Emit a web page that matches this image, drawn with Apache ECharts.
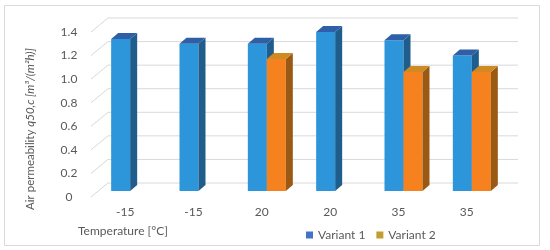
<!DOCTYPE html>
<html><head><meta charset="utf-8">
<script src="https://cdn.jsdelivr.net/npm/echarts@6/dist/echarts.min.js"></script>
<style>html,body{margin:0;padding:0;background:#fff}#c{width:550px;height:250px}</style>
</head><body><div id="c"></div>
<script>
const categories = ['-15', '-15', '20', '20', '35', '35'];
const variant1 = [1.29, 1.25, 1.25, 1.35, 1.28, 1.15];
const variant2 = [null, null, 1.12, null, 1.01, 1.01];
const yTicks = [0, 0.2, 0.4, 0.6, 0.8, 1.0, 1.2, 1.4];
const seriesNames = ['Variant 1', 'Variant 2'];
const yAxisTitle = 'Air permeability ';
const yAxisTitleItalic = 'q50,c [m³/(m²h)]';
const xAxisTitle = 'Temperature [°C]';

const FONT = 'Lato';
const TXT = '#595959';
const GRID = '#d9d9d9';
const WALL_DX = 17, WALL_DY = -14;   // depth of back wall
const BAR_FY = -6;                   // bar front plane offset
const BAR_DX = 7, BAR_DY = -6;       // bar depth

const faces = [
  {front: '#2d95d9', side: '#1f5d8c', top: '#2f5fa6'},
  {front: '#f5821f', side: '#9a5a14', top: '#cf8a22'}
];
const slots = [[-14, 5], [5, 24]];

function barRender(k) {
  return function (params, api) {
    const v = api.value(1);
    if (v == null || isNaN(v)) return;
    const c = api.value(0);
    const top = api.coord([c, v]);
    const bot = api.coord([c, 0]);
    const x0 = top[0] + slots[k][0], x1 = top[0] + slots[k][1];
    const yT = top[1] + BAR_FY, yB = bot[1] + BAR_FY;
    const f = faces[k];
    return {type: 'group', children: [
      {type: 'polygon', shape: {points: [[x0, yB], [x1, yB], [x1, yT], [x0, yT]]}, style: {fill: f.front}},
      {type: 'polygon', shape: {points: [[x1, yB], [x1 + BAR_DX, yB + BAR_DY], [x1 + BAR_DX, yT + BAR_DY], [x1, yT]]}, style: {fill: f.side}},
      {type: 'polygon', shape: {points: [[x0, yT], [x1, yT], [x1 + BAR_DX, yT + BAR_DY], [x0 + BAR_DX, yT + BAR_DY]]}, style: {fill: f.top}}
    ]};
  };
}

function wallRender(params, api) {
  const cs = params.coordSys;
  const p = api.coord([0, api.value(1)]);
  const y = p[1];
  const xL = cs.x, xR = cs.x + cs.width;
  return {type: 'group', children: [
    {type: 'line', shape: {x1: xL + WALL_DX, y1: y + WALL_DY, x2: xR + WALL_DX, y2: y + WALL_DY}, style: {stroke: GRID, lineWidth: 1}},
    {type: 'line', shape: {x1: xL, y1: y, x2: xL + WALL_DX, y2: y + WALL_DY}, style: {stroke: GRID, lineWidth: 1}}
  ]};
}

const chart = echarts.init(document.getElementById('c'), null, {renderer: 'canvas'});
chart.setOption({
  animation: false,
  backgroundColor: '#fff',
  textStyle: {fontFamily: FONT},
  graphic: [
    {type: 'rect', z: -10, shape: {x: 4.5, y: 5.5, width: 535, height: 240}, style: {fill: '#fff', stroke: GRID, lineWidth: 1}},
    {type: 'text', x: 30, y: 129, rotation: Math.PI / 2, style: {
      text: yAxisTitle + '{i|' + yAxisTitleItalic + '}', fill: TXT, font: '11.5px ' + FONT,
      align: 'center', verticalAlign: 'middle',
      rich: {i: {fontStyle: 'italic', fontSize: 11.5, fontFamily: FONT, fill: TXT}}
    }},
    {type: 'text', x: 78, y: 231, style: {text: xAxisTitle, fill: TXT, font: '12px ' + FONT, align: 'left', verticalAlign: 'middle'}}
  ],
  legend: {
    data: [{name: seriesNames[0], icon: 'rect'}, {name: seriesNames[1], icon: 'rect'}],
    left: 301, top: 224, itemWidth: 7, itemHeight: 7, itemGap: 11,
    textStyle: {fontSize: 12, color: TXT, fontFamily: FONT}
  },
  grid: {left: 91, right: 49, top: 32, bottom: 53, containLabel: false},
  xAxis: {
    type: 'category', data: categories,
    axisLine: {show: false}, axisTick: {show: false}, splitLine: {show: false},
    axisLabel: {color: TXT, fontSize: 12, margin: 9, fontFamily: FONT}
  },
  yAxis: {
    type: 'value', min: 0, max: 1.4, interval: 0.2,
    axisLine: {show: false}, axisTick: {show: false}, splitLine: {show: false},
    axisLabel: {color: TXT, fontSize: 12, margin: 22, align: 'center', fontFamily: FONT,
      formatter: v => v === 0 ? '0' : v.toFixed(1)}
  },
  series: [
    {type: 'custom', name: 'walls', silent: true, z: 1, clip: false,
      renderItem: wallRender, data: yTicks.map(v => [0, v]), encode: {x: 0, y: 1}},
    {type: 'custom', name: seriesNames[0], z: 2, clip: false, itemStyle: {color: '#4472c4'},
      renderItem: barRender(0), data: variant1.map((v, i) => [i, v]), encode: {x: 0, y: 1}},
    {type: 'custom', name: seriesNames[1], z: 3, clip: false, itemStyle: {color: '#bf9f2f'},
      renderItem: barRender(1), data: variant2.map((v, i) => [i, v]).filter(d => d[1] != null), encode: {x: 0, y: 1}}
  ]
});
</script>
</body></html>
